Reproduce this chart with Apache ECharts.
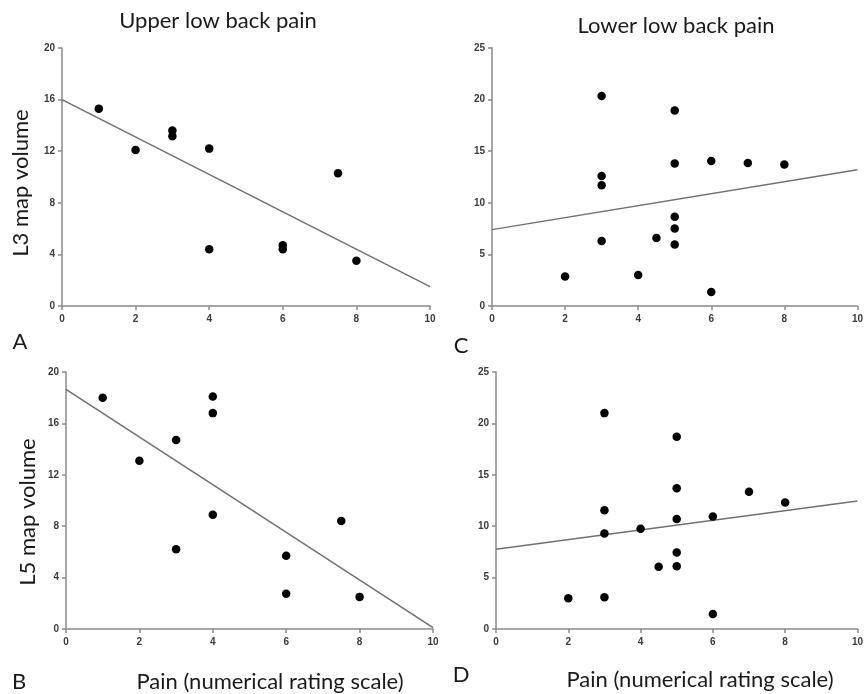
<!DOCTYPE html>
<html>
<head>
<meta charset="utf-8">
<script src="https://cdn.jsdelivr.net/npm/echarts@6/dist/echarts.min.js"></script>
<style>html,body{margin:0;padding:0;background:#fff}#c{width:866px;height:694px}</style>
</head>
<body>
<div id="c"></div>
<script>
// Panel A: Upper low back pain, L3 map volume
const pointsA = [[1,15.3],[2,12.1],[3,13.6],[3,13.15],[4,12.2],[4,4.4],[6,4.7],[6,4.4],[7.5,10.3],[8,3.5]];
const fitA = [[0,16.0],[10,1.5]];
// Panel C: Lower low back pain, L3 map volume
const pointsC = [[3,20.35],[5,18.95],[3,12.6],[3,11.7],[5,13.8],[6,14.05],[7,13.85],[8,13.7],[5,8.65],[5,7.5],[4.5,6.6],[3,6.3],[5,5.95],[2,2.85],[4,3.0],[6,1.35]];
const fitC = [[0,7.4],[10,13.2]];
// Panel B: Upper low back pain, L5 map volume
const pointsB = [[1,18.0],[2,13.1],[3,14.7],[3,6.2],[4,18.1],[4,16.8],[4,8.9],[6,5.7],[6,2.75],[7.5,8.4],[8,2.5]];
const fitB = [[0,18.65],[10,0.1]];
// Panel D: Lower low back pain, L5 map volume
const pointsD = [[3,21.0],[5,18.7],[5,13.7],[7,13.35],[8,12.3],[3,11.55],[5,10.7],[6,10.95],[3,9.3],[4,9.75],[5,7.45],[4.5,6.05],[5,6.1],[2,3.0],[3,3.1],[6,1.45]];
const fitD = [[0,7.75],[10,12.45]];

const xTicks = {min:0, max:10, interval:2};
const yTicksL3 = [{min:0,max:20,interval:4},{min:0,max:25,interval:5}];
const yTicksL5 = [{min:0,max:20,interval:4},{min:0,max:25,interval:5}];

const titles = ['Upper low back pain','Lower low back pain'];
const yNames = ['L3 map volume','L5 map volume'];
const xName = 'Pain (numerical rating scale)';
const letters = ['A','C','B','D'];

const chart = echarts.init(document.getElementById('c'), null, {renderer:'canvas'});
const grids = [
  {left:62, top:48, width:368, height:258},
  {left:492, top:48, width:368, height:258},
  {left:66, top:372, width:367, height:257},
  {left:496, top:372, width:367, height:257}
];
const yCfg = [yTicksL3[0], yTicksL3[1], yTicksL5[0], yTicksL5[1]];
const axisLine = {show:true, lineStyle:{color:'#8a8a8a', width:1.5}};
const axisTick = {show:true, length:4, lineStyle:{color:'#8a8a8a', width:1.5}};
const axisLabel = {color:'#3a3a3a', fontFamily:'Liberation Sans', fontWeight:'bold', fontSize:10};
const xAxes = grids.map((g,i)=>({type:'value', gridIndex:i, min:xTicks.min, max:xTicks.max, interval:xTicks.interval,
  axisLine, axisTick, axisLabel:Object.assign({margin:8}, axisLabel), splitLine:{show:false}}));
const yAxes = grids.map((g,i)=>({type:'value', gridIndex:i, min:yCfg[i].min, max:yCfg[i].max, interval:yCfg[i].interval,
  axisLine, axisTick, axisLabel:Object.assign({margin:7}, axisLabel), splitLine:{show:false}}));
const pts = [pointsA, pointsC, pointsB, pointsD];
const fits = [fitA, fitC, fitB, fitD];
const series = [];
pts.forEach((p,i)=>{
  series.push({type:'line', xAxisIndex:i, yAxisIndex:i, data:fits[i], symbol:'none', silent:true,
    lineStyle:{color:'#707070', width:1.5}, z:2});
  series.push({type:'scatter', xAxisIndex:i, yAxisIndex:i, data:p, symbol:'circle', symbolSize:8.5,
    itemStyle:{color:'#000', opacity:1}, z:3});
});
const F = 'Lato';
const txt = (x,y,t,size,extra)=>Object.assign({type:'text', x, y, style:{text:t, font:`${size}px ${F}`, fill:'#1a1a1a', align:'center', verticalAlign:'middle'}}, extra||{});
const graphic = [
  txt(218,21,titles[0],22),
  txt(676,26,titles[1],22),
  txt(21,183,yNames[0],22,{rotation:Math.PI/2}),
  txt(28,512,yNames[1],22,{rotation:Math.PI/2}),
  txt(270,682,xName,22),
  txt(700,680,xName,22),
  txt(20,342,letters[0],22),
  txt(461,346,letters[1],22),
  txt(19,682,letters[2],22),
  txt(461,675,letters[3],22)
];
chart.setOption({animation:false, grid:grids, xAxis:xAxes, yAxis:yAxes, series, graphic});
</script>
</body>
</html>
